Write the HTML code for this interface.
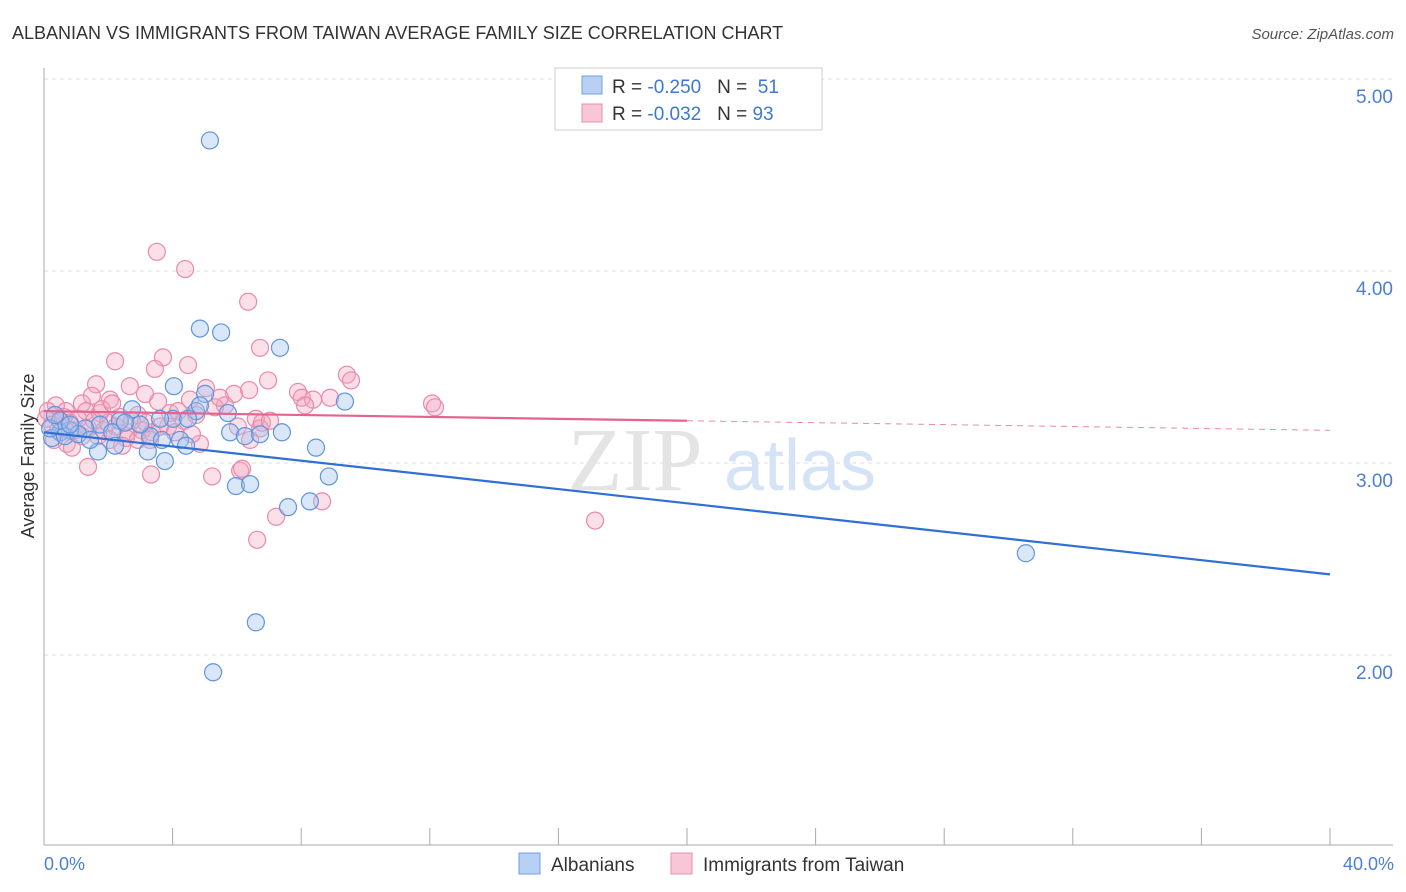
<!DOCTYPE html>
<html><head><meta charset="utf-8"><style>
body{margin:0;background:#fff;font-family:"Liberation Sans",sans-serif}
svg{display:block}
</style></head><body>
<svg id="chart" width="1406" height="892" font-family="Liberation Sans, sans-serif">
<text x="12" y="39" font-size="18" fill="#333">ALBANIAN VS IMMIGRANTS FROM TAIWAN AVERAGE FAMILY SIZE CORRELATION CHART</text>
<text x="1394" y="39" font-size="15" fill="#555" font-style="italic" text-anchor="end">Source: ZipAtlas.com</text>
<g id="grid"></g>
<text x="635" y="490" font-size="90" fill="#e4e4e4" font-family="Liberation Serif, serif" text-anchor="middle">ZIP</text>
<text x="800" y="490" font-size="72" fill="#d4e3f5" text-anchor="middle">atlas</text>
<g id="pts"></g>
<g id="trends"></g>
<text transform="translate(34,456) rotate(-90)" font-size="18" fill="#333" text-anchor="middle">Average Family Size</text>
<text x="44" y="870" font-size="18" fill="#4a7fd4">0.0%</text>
<text x="1394" y="870" font-size="18" fill="#4a7fd4" text-anchor="end">40.0%</text>
<g>
<rect x="555" y="68" width="267" height="62" fill="#fff" stroke="#ccc"/>
<rect x="582" y="76" width="20" height="18" fill="#b7d0f3" stroke="#6f9fe0"/>
<rect x="582" y="104" width="20" height="18" fill="#f8c6d6" stroke="#e88fac"/>
<text x="612" y="93" font-size="19" fill="#333">R = <tspan fill="#3b78d8">-0.250</tspan>&#160;&#160;&#160;N = <tspan fill="#3b78d8">&#160;51</tspan></text>
<text x="612" y="120" font-size="19" fill="#333">R = <tspan fill="#3b78d8">-0.032</tspan>&#160;&#160;&#160;N = <tspan fill="#3b78d8">93</tspan></text>
</g>
<g>
<rect x="519" y="853" width="21" height="21" fill="#b7d0f3" stroke="#6f9fe0"/>
<text x="551" y="871" font-size="19" fill="#333">Albanians</text>
<rect x="671" y="853" width="21" height="21" fill="#f8c6d6" stroke="#e88fac"/>
<text x="703" y="871" font-size="19" fill="#333">Immigrants from Taiwan</text>
</g>
</svg>
<script>
const yTicks=[2,3,4,5];
const yTickLabels=["2.00","3.00","4.00","5.00"];
const xTicks=[0,4,8,12,16,20,24,28,32,36,40];
const blueX=[5.16,4.85,5.51,7.34,4.04,5.01,9.36,2.74,4.01,4.73,5.72,4.48,3.61,2.36,1.74,1.28,0.81,0.5,0.25,0.65,1.06,2.12,3.3,4.23,3.67,5.79,6.25,6.72,7.4,3.23,1.68,4.42,8.46,3.76,8.86,5.97,6.41,7.59,8.27,6.59,5.26,30.54,2.99,2.52,1.43,0.5,0.19,2.21,4.85,0.81,0.34];
const blueY=[4.68,3.70,3.68,3.60,3.40,3.36,3.32,3.28,3.23,3.27,3.26,3.23,3.23,3.22,3.20,3.18,3.17,3.16,3.13,3.14,3.15,3.16,3.14,3.12,3.12,3.16,3.14,3.15,3.16,3.06,3.06,3.09,3.08,3.01,2.93,2.88,2.89,2.77,2.80,2.17,1.91,2.53,3.20,3.21,3.12,3.22,3.18,3.09,3.30,3.20,3.25];
const pinkX=[3.51,4.39,6.35,6.72,2.21,3.70,4.48,3.45,6.97,9.42,9.55,1.62,2.67,5.04,7.9,5.91,6.38,8.02,8.37,3.14,1.49,2.05,3.55,8.12,12.07,12.16,5.63,1.18,0.37,0.12,0.68,1.31,1.74,2.36,2.92,3.92,4.17,4.73,6.59,6.03,6.72,6.78,0.5,0.81,0.96,1.37,1.87,2.24,2.61,3.05,3.36,3.86,4.35,2.55,2.92,4.85,0.71,0.87,2.05,2.43,6.10,6.41,1.37,3.33,5.23,6.16,7.22,8.65,6.63,17.14,0.06,0.25,0.44,0.62,1.06,1.56,1.99,2.74,3.17,3.61,4.07,4.6,5.32,3.3,1.8,2.12,1.18,1.68,0.31,5.47,7.03,8.9,4.54];
const pinkY=[4.10,4.01,3.84,3.60,3.53,3.55,3.51,3.49,3.43,3.46,3.43,3.41,3.40,3.39,3.37,3.36,3.38,3.34,3.33,3.36,3.35,3.33,3.32,3.30,3.31,3.29,3.30,3.31,3.30,3.27,3.27,3.27,3.26,3.24,3.25,3.26,3.27,3.25,3.23,3.19,3.18,3.21,3.22,3.21,3.17,3.18,3.17,3.19,3.16,3.17,3.16,3.19,3.22,3.13,3.12,3.10,3.10,3.08,3.12,3.09,2.96,3.12,2.98,2.94,2.93,2.97,2.72,2.80,2.60,2.70,3.23,3.20,3.17,3.24,3.23,3.22,3.21,3.22,3.21,3.19,3.16,3.15,3.29,3.12,3.28,3.31,3.14,3.14,3.12,3.34,3.22,3.34,3.33];
const blueTrend=[3.16,2.42];   // values at x=0 and x=40
const pinkTrend=[3.27,3.22,3.17]; // values at x=0, 20, 40
const NS="http://www.w3.org/2000/svg";
const xs=v=>44+v*32.15;
const ys=v=>463-(v-3)*192;
function mk(tag,attrs,parent){const e=document.createElementNS(NS,tag);for(const k in attrs)e.setAttribute(k,attrs[k]);parent.appendChild(e);return e;}
const grid=document.getElementById('grid');
yTicks.forEach((t,i)=>{
  const l=mk('line',{x1:44,x2:1393,y1:ys(t),y2:ys(t),stroke:'#ddd','stroke-dasharray':'4,4'},grid);
  
  
  const tx=mk('text',{x:1393,y:ys(t)+24,'font-size':19,fill:'#4a7fd4','text-anchor':'end'},grid);
  tx.textContent=yTickLabels[i];
  
  
});
const ax=mk('line',{x1:44,x2:44,y1:68,y2:845,stroke:'#aaa'},grid);


const bx=mk('line',{x1:44,x2:1393,y1:845,y2:845,stroke:'#aaa'},grid);


xTicks.forEach(t=>{
  const l=mk('line',{x1:xs(t),x2:xs(t),y1:828,y2:845,stroke:'#aaa'},grid);
  
  
});
const pts=document.getElementById('pts');
pinkX.forEach((x,i)=>{
  const c=mk('circle',{cx:xs(x),cy:ys(pinkY[i]),r:8.5,fill:'rgba(244,164,192,0.35)',stroke:'#e98aaa','stroke-width':1.2},pts);
  
  
});
blueX.forEach((x,i)=>{
  const c=mk('circle',{cx:xs(x),cy:ys(blueY[i]),r:8.5,fill:'rgba(160,196,240,0.4)',stroke:'#5f95dd','stroke-width':1.2},pts);
  
  
});
const tr=document.getElementById('trends');
const b=mk('line',{x1:xs(0),y1:ys(blueTrend[0]),x2:xs(40),y2:ys(blueTrend[1]),stroke:'#2f6fd6','stroke-width':2.2},tr);


const p1=mk('line',{x1:xs(0),y1:ys(pinkTrend[0]),x2:xs(20),y2:ys(pinkTrend[1]),stroke:'#e4638f','stroke-width':2.2},tr);


const p2=mk('line',{x1:xs(20),y1:ys(pinkTrend[1]),x2:xs(40),y2:ys(pinkTrend[2]),stroke:'#e98aaa','stroke-width':1,'stroke-dasharray':'6,5'},tr);


</script>
</body></html>
